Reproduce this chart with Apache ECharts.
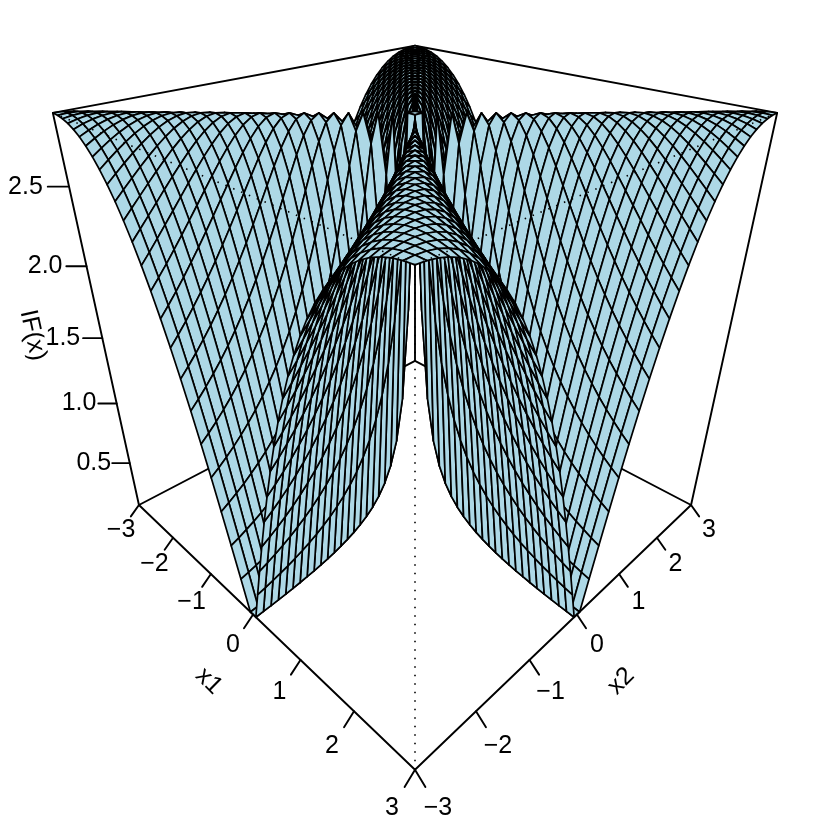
<!DOCTYPE html>
<html><head><meta charset="utf-8"><style>html,body{margin:0;background:#fff}#c{width:830px;height:830px}</style>
<script src="https://cdn.jsdelivr.net/npm/echarts@6/dist/echarts.min.js"></script></head><body><div id="c"></div>
<script>
const gridMagnitudes=[0.061,0.184,0.306,0.429,0.551,0.673,0.796,0.918,1.041,1.163,1.286,1.408,1.531,1.653,1.776,1.898,2.020,2.143,2.265,2.388,2.510,2.633,2.755,2.878,3];
const axisTicks=[-3,-2,-1,0,1,2,3];
const heightTicks=[0.5,1.0,1.5,2.0,2.5];
const zMin=0.12,zMax=2.92;
const m=gridMagnitudes.length;
const grid=[...gridMagnitudes.slice().reverse().map(v=>-v),...gridMagnitudes];
const idx=i=>i<m?m-1-i:i-m;
function H(i,j){const a=gridMagnitudes[idx(i)],b=gridMagnitudes[idx(j)];return 2.92*2*a*b/(a*a+b*b);}
const zn=v=>-1+2*(v-zMin)/(zMax-zMin);
const R=3.67,S=0.495,C=0.8688,Q=Math.SQRT2;
function P(a,b,z){const h=(a+b)/Q,d=(a-b)/Q,Y=z*C-d*S,D=d*C+z*S;return [h/(R-D),Y/(R-D)];}
const n=grid.length;
const cells=[];for(let i=0;i<n-1;i++)for(let j=n-2;j>=0;j--)cells.push([i,j]);
const px=813;
const INK='#000';
function segSeries(segs,style,z){return{type:'custom',coordinateSystem:'cartesian2d',clip:false,silent:true,z,animation:false,progressive:0,
 data:segs.map((s,i)=>[i,0]),encode:{x:0,y:1},
 renderItem(p,api){const s=segs[p.dataIndex];const A=api.coord(P(s[0],s[1],s[2])),B=api.coord(P(s[3],s[4],s[5]));
  return{type:'line',shape:{x1:A[0],y1:A[1],x2:B[0],y2:B[1]},style:Object.assign({stroke:INK,lineWidth:1.9,lineCap:'round'},style)};}};}
function labelSeries(labs,z){return{type:'custom',coordinateSystem:'cartesian2d',clip:false,silent:true,z,animation:false,progressive:0,
 data:labs.map((s,i)=>[i,0]),encode:{x:0,y:1},
 renderItem(p,api){const s=labs[p.dataIndex];const A=api.coord(P(s[0],s[1],s[2]));
  return{type:'text',x:A[0],y:A[1],rotation:s[4]||0,style:{text:s[3],font:'25px "Liberation Sans"',fill:INK,align:'center',verticalAlign:'middle'}};}};}
const backLines=[[-1,-1,-1,-1,1,-1],[-1,1,-1,1,1,-1],[-1,1,-1,-1,1,1],[-1,-1,1,-1,1,1],[-1,1,1,1,1,1]];
const frontDotted=[[-1,-1,1,1,-1,1],[1,-1,1,1,1,1],[1,-1,-1,1,-1,1]];
const axisLines=[[-1,-1,-1,1,-1,-1],[1,-1,-1,1,1,-1],[-1,-1,-1,-1,-1,1],[1,1,-1,1,1,1]];
const TD=0.053,TE=0.043,LF=2.2;
const ticks=[],labs=[];
const fmt=v=>String(v).replace('-','\u2212');
axisTicks.forEach(t=>{const u=t/3;
 ticks.push([u,-1,-1,u,-1-TD,-1-TE]);labs.push([u,-1-TD*LF,-1-TE*LF,fmt(t)]);
 ticks.push([1,u,-1,1+TD,u,-1-TE]);labs.push([1+TD*LF,u,-1-TE*LF,fmt(t)]);});
const ZT=0.0615;
heightTicks.forEach(v=>{const z=zn(v);ticks.push([-1,-1,z,-1-ZT,-1-ZT,z]);labs.push([-1-ZT*2.05,-1-ZT*2.05,z,v.toFixed(1)]);});
labs.push([0,-1-TD*4.8,-1-TE*4.8,'x1',-Math.PI/4]);
labs.push([1+TD*4.8,0,-1-TE*4.8,'x2',Math.PI/4]);
labs.push([-1-0.22,-1-0.22,0,'IF(x)',-77.6*Math.PI/180]);
const surface={type:'custom',coordinateSystem:'cartesian2d',clip:false,silent:true,z:2,animation:false,progressive:0,
 data:cells,encode:{x:0,y:1},
 renderItem(p,api){const i=api.value(0),j=api.value(1);
  const pts=[[i,j],[i+1,j],[i+1,j+1],[i,j+1]].map(q=>api.coord(P(grid[q[0]]/3,grid[q[1]]/3,zn(H(q[0],q[1])))));
  return{type:'polygon',shape:{points:pts},style:{fill:'#ADD8E6',stroke:INK,lineWidth:1.7,lineJoin:'round'}};}};
const chart=echarts.init(document.getElementById('c'),null,{renderer:'canvas',width:830,height:830});
chart.setOption({animation:false,backgroundColor:'#fff',
 grid:{left:0,right:0,top:0,bottom:0},
 xAxis:{type:'value',min:-415/px,max:415/px,show:false},
 yAxis:{type:'value',min:(335.4-830)/px,max:335.4/px,show:false},
 series:[segSeries(backLines,{},1),surface,
  segSeries(frontDotted,{lineWidth:1.6,lineDash:[1.5,7],lineCap:'butt'},3),
  segSeries(axisLines,{},4),segSeries(ticks,{},4),labelSeries(labs,5)]});
</script></body></html>
